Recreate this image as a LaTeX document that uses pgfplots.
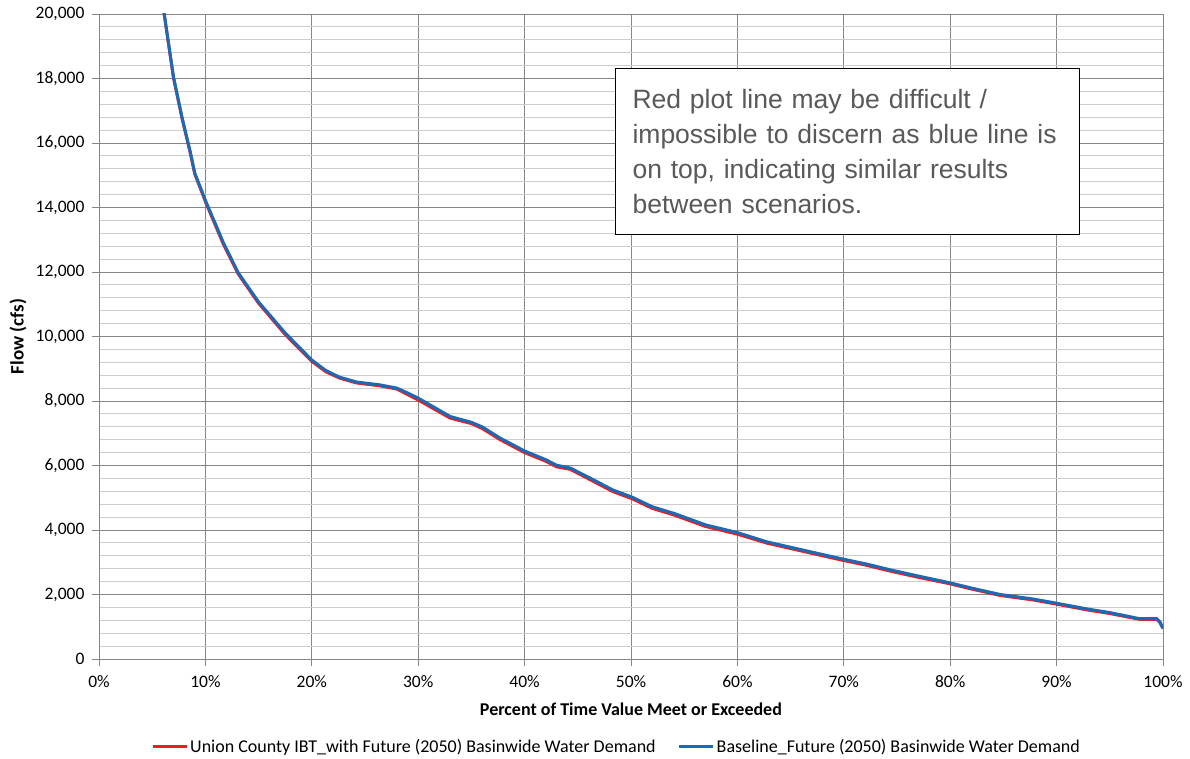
\documentclass[border=0pt]{standalone}
\usepackage{pgfplots}
\pgfplotsset{compat=1.18}
\usepackage{fontspec}
\setmainfont{Carlito}
\newfontfamily\arialfont{Liberation Sans}
\definecolor{majgrid}{RGB}{134,134,134}
\definecolor{mingrid}{RGB}{205,205,205}
\definecolor{serred}{RGB}{237,28,36}
\definecolor{serblue}{RGB}{30,105,180}
\definecolor{boxtext}{RGB}{89,89,89}
\begin{document}
\begin{tikzpicture}
\path[use as bounding box] (-99pt,-100pt) rectangle (1091pt,659pt);
\begin{axis}[
  at={(0pt,0pt)}, anchor=south west,
  scale only axis, width=1064pt, height=645pt,
  xmin=0, xmax=100, ymin=0, ymax=20000,
  xtick={0,10,...,100}, ytick={0,2000,...,20000},
  minor y tick num=4,
  grid=both,
  major grid style={color=majgrid, line width=0.9pt},
  minor grid style={color=mingrid, line width=0.9pt},
  axis line style={color=majgrid, line width=0.9pt},
  tick style={color=majgrid, line width=0.9pt},
  major tick length=7pt, minor tick length=0pt,
  tick align=outside,
  xtick pos=bottom, ytick pos=left,
  ticklabel style={font=\fontsize{17.5}{20}\selectfont, text=black},
  yticklabel style={xshift=-4pt},
  xticklabel style={yshift=-6pt},
  /pgf/number format/assume math mode=true,
  /pgf/number format/1000 sep={,},
  scaled y ticks=false,
  xticklabel={\pgfmathprintnumber{\tick}\%},
  xlabel={\textbf{Percent of Time Value Meet or Exceeded}},
  ylabel={\textbf{Flow (cfs)}},
  every axis x label/.style={at={(axis description cs:0.5,-0.0775)}, anchor=center, font=\fontsize{18}{21}\selectfont},
  every axis y label/.style={at={(axis description cs:-0.0761,0.5)}, anchor=center, rotate=90, font=\fontsize{19}{22}\selectfont},
  legend columns=2,
  legend cell align=left,
  legend style={at={(axis description cs:0.4864,-0.1364)}, anchor=center, draw=none, fill=none,
    font=\fontsize{18}{21}\selectfont,
    /tikz/every even column/.append style={column sep=20pt}},
  legend image code/.code={\draw[#1] (0pt,0pt) -- (34pt,0pt);},
]
\addplot[serred, line width=3pt] coordinates {
(5.95,20400) (7.0,18020) (7.8,16770) (8.6,15660) (9.0,15040) (10.1,14100)
(11.0,13400) (11.7,12850) (13.1,11930) (15.0,11030) (17.5,10060) (20.0,9230)
(21.3,8910) (22.6,8710) (24.2,8560) (26.4,8470) (28.0,8370) (29.0,8200)
(30.0,8030) (33.0,7470) (35.0,7300) (36.0,7150) (37.7,6800) (40.0,6400)
(42.0,6130) (43.0,5960) (44.3,5880) (46.1,5570) (48.3,5190) (50.1,4970)
(52.0,4670) (54.0,4470) (57.0,4110) (60.0,3870) (62.8,3590) (66.8,3290)
(69.9,3060) (72.2,2900) (74.3,2730) (76.9,2540) (80.0,2330) (82.0,2170)
(84.7,1970) (87.8,1830) (90.0,1700) (92.9,1520) (95.0,1410) (97.8,1230)
(99.4,1230) (99.7,1140) (100,950)
};
\addlegendentry{Union County IBT\_with Future (2050) Basinwide Water Demand}
\addplot[serblue, line width=3pt] coordinates {
(5.95,20400) (7.0,18050) (7.8,16800) (8.6,15690) (9.0,15070) (10.1,14140)
(11.0,13450) (11.7,12900) (13.1,11970) (15.0,11070) (17.5,10110) (20.0,9270)
(21.3,8950) (22.6,8740) (24.2,8590) (26.4,8500) (28.0,8400) (29.0,8250)
(30.0,8090) (33.0,7520) (35.0,7340) (36.0,7200) (37.7,6850) (40.0,6450)
(42.0,6180) (43.0,6010) (44.3,5920) (46.1,5620) (48.3,5240) (50.1,5020)
(52.0,4720) (54.0,4520) (57.0,4160) (60.0,3920) (62.8,3630) (66.8,3330)
(69.9,3100) (72.2,2940) (74.3,2770) (76.9,2580) (80.0,2360) (82.0,2200)
(84.7,2000) (87.8,1860) (90.0,1730) (92.9,1550) (95.0,1440) (97.8,1250)
(99.4,1250) (99.7,1150) (100,950)
};
\addlegendentry{Baseline\_Future (2050) Basinwide Water Demand}
\node[draw=black, line width=1pt, fill=white, anchor=north west,
  minimum width=464pt, minimum height=166pt, inner xsep=17pt,
  text width=430pt, align=left, text=boxtext,
  font=\arialfont\fontsize{26.5}{35}\selectfont]
  at (rel axis cs:0.485,0.916)
  {Red plot line may be difficult /\\impossible to discern as blue line is\\on top, indicating similar results\\between scenarios.};
\end{axis}
\end{tikzpicture}
\end{document}
